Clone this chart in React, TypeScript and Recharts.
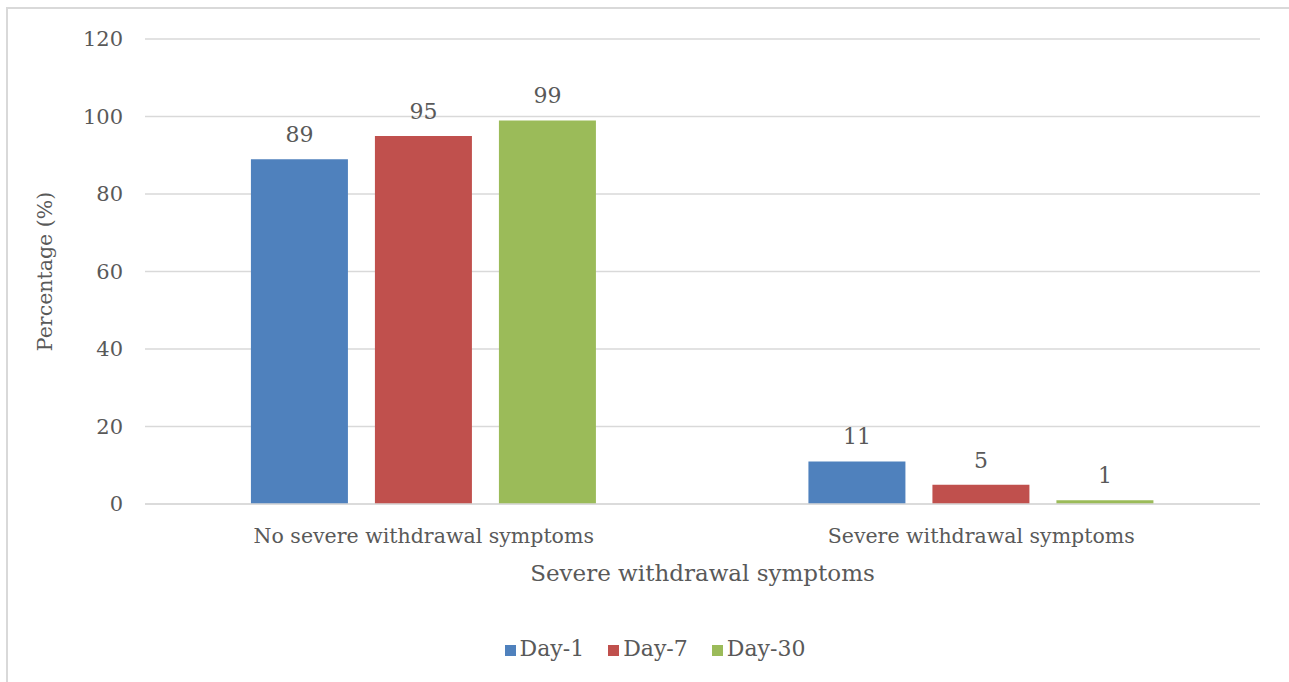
import { BarChart, Bar, XAxis, YAxis, CartesianGrid, Legend, LabelList } from 'recharts';

const categories = ['No severe withdrawal symptoms', 'Severe withdrawal symptoms'];
const day1 = [89, 11];
const day7 = [95, 5];
const day30 = [99, 1];
const yTicks = [0, 20, 40, 60, 80, 100, 120];
const seriesOrder = ['Day-1', 'Day-7', 'Day-30'];

const data = categories.map((name, i) => ({
  name,
  day1: day1[i],
  day7: day7[i],
  day30: day30[i],
}));

const font = '"DejaVu Serif", serif';
const textGray = '#595959';

export default function App() {
  return (
    <div
      style={{
        position: 'absolute',
        top: 0,
        left: 0,
        width: 1289,
        height: 682,
        overflow: 'hidden',
        background: '#fff',
        fontFamily: font,
      }}
    >
      <style>{'.recharts-legend-item { margin: 0 12px !important; }'}</style>
      {/* frame of the figure box, open to the right and bottom */}
      <div
        style={{
          position: 'absolute',
          left: 6,
          top: 7,
          width: 1281,
          height: 675,
          borderLeft: '2px solid #d9d9d9',
          borderTop: '2px solid #d9d9d9',
        }}
      />
      <div style={{ position: 'absolute', left: 0, top: 0 }}>
        <BarChart
          width={1289}
          height={682}
          data={data}
          margin={{ top: 39, right: 29, bottom: 6, left: 0 }}
          barCategoryGap="19%"
          barGap={27}
        >
          <CartesianGrid vertical={false} stroke="#d9d9d9" strokeWidth={1.5} />
          <XAxis
            dataKey="name"
            axisLine={{ stroke: '#d9d9d9', strokeWidth: 1.5 }}
            tickLine={false}
            tickSize={0}
            tickMargin={24}
            height={132}
            tick={{ fill: textGray, fontSize: 20.5, fontFamily: font }}
            label={{
              value: 'Severe withdrawal symptoms',
              position: 'insideTop',
              offset: 61,
              fill: textGray,
              fontSize: 23,
              fontFamily: font,
            }}
          />
          <YAxis
            width={145}
            domain={[0, 120]}
            ticks={yTicks}
            axisLine={false}
            tickLine={false}
            tickSize={0}
            tickMargin={22}
            tick={{ fill: textGray, fontSize: 21, fontFamily: font }}
            label={{
              value: 'Percentage (%)',
              angle: -90,
              position: 'insideLeft',
              offset: 45,
              style: { textAnchor: 'middle' },
              fill: textGray,
              fontSize: 20.5,
              fontFamily: font,
            }}
          />
          <Legend
            verticalAlign="bottom"
            height={40}
            iconType="square"
            iconSize={11}
            itemSorter={(item: any) => seriesOrder.indexOf(item.value)}
            wrapperStyle={{ fontFamily: font, fontSize: 22, left: 25 }}
            formatter={(value) => <span style={{ color: textGray }}>{value}</span>}
          />
          <Bar dataKey="day1" name="Day-1" fill="#4F81BD" isAnimationActive={false}>
            <LabelList dataKey="day1" position="top" offset={17} fill={textGray} fontSize={22} fontFamily={font} />
          </Bar>
          <Bar dataKey="day7" name="Day-7" fill="#C0504D" isAnimationActive={false}>
            <LabelList dataKey="day7" position="top" offset={17} fill={textGray} fontSize={22} fontFamily={font} />
          </Bar>
          <Bar dataKey="day30" name="Day-30" fill="#9BBB59" isAnimationActive={false}>
            <LabelList dataKey="day30" position="top" offset={17} fill={textGray} fontSize={22} fontFamily={font} />
          </Bar>
        </BarChart>
      </div>
    </div>
  );
}
